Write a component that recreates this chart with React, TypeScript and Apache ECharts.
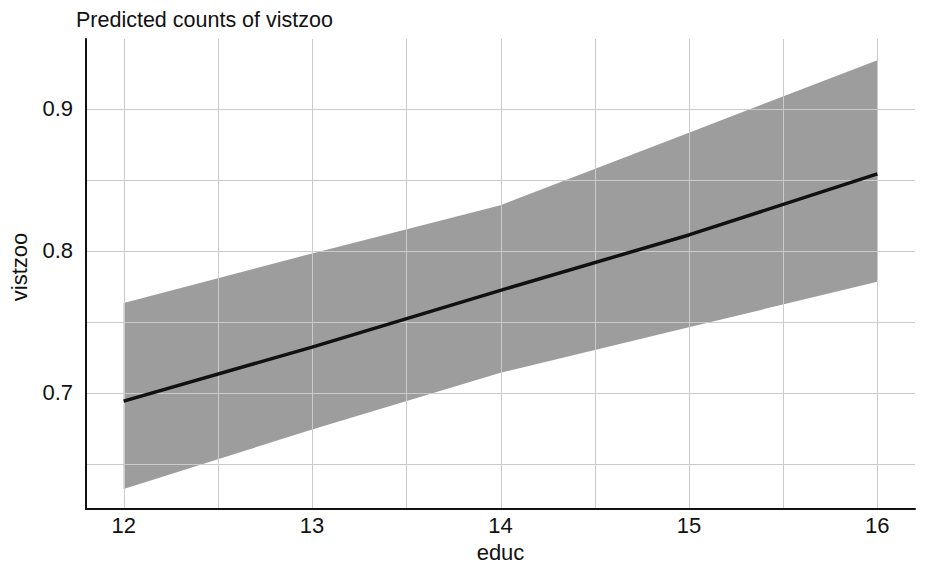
import React, { useEffect, useRef } from "react";
import * as echarts from "echarts";

const educ = [12, 13, 14, 15, 16];
const predicted = [0.694, 0.732, 0.772, 0.811, 0.854];
const upperCI = [0.763, 0.798, 0.832, 0.883, 0.934];
const lowerCI = [0.632, 0.674, 0.714, 0.746, 0.778];
const xTickLabels = [12, 13, 14, 15, 16];
const yTickLabels = [0.7, 0.8, 0.9];
const xGridLines = [12, 12.5, 13, 13.5, 14, 14.5, 15, 15.5, 16];
const yGridLines = [0.65, 0.7, 0.75, 0.8, 0.85, 0.9];

const titleText = "Predicted counts of vistzoo";
const xName = "educ";
const yName = "vistzoo";

const FONT = "'Liberation Sans', Arial, Helvetica, sans-serif";
const FS = 22;

export default function App() {
  const ref = useRef<HTMLDivElement>(null);
  useEffect(() => {
    if (!ref.current) return;
    const chart = echarts.init(ref.current, undefined, { renderer: "svg" });
    const isLabel = (v: number, list: number[]) =>
      list.some((t) => Math.abs(t - v) < 1e-6);
    const option: any = {
      animation: false,
      backgroundColor: "#ffffff",
      textStyle: { fontFamily: FONT },
      title: {
        text: titleText,
        left: 76,
        top: 9,
        padding: 0,
        textStyle: { fontFamily: FONT, fontSize: 21.5, fontWeight: "normal", color: "#111" },
      },
      grid: { left: 80, top: 39, right: 17, bottom: 77, containLabel: false },
      xAxis: {
        type: "value",
        min: 11.8,
        max: 16.2,
        minInterval: 0.5,
        maxInterval: 0.5,
        z: 5,
        name: xName,
        nameLocation: "middle",
        nameGap: 32,
        nameTextStyle: { fontFamily: FONT, fontSize: FS, color: "#111" },
        axisLine: { show: true, onZero: false, lineStyle: { color: "#111", width: 2 } },
        axisTick: { show: false },
        axisLabel: {
          margin: 5,
          fontFamily: FONT,
          fontSize: FS,
          color: "#111",
          showMinLabel: false,
          showMaxLabel: false,
          formatter: (v: number) => (isLabel(v, xTickLabels) ? String(Math.round(v)) : ""),
        },
        splitLine: { show: false },
      },
      yAxis: {
        type: "value",
        min: 0.618,
        max: 0.949,
        minInterval: 0.05,
        maxInterval: 0.05,
        z: 5,
        name: yName,
        nameLocation: "middle",
        nameGap: 56,
        nameRotate: 90,
        nameTextStyle: {
          fontFamily: FONT,
          fontSize: FS,
          color: "#111",
          padding: [0, 0, 0, 14],
        },
        axisLine: { show: true, onZero: false, lineStyle: { color: "#111", width: 2 } },
        axisTick: { show: false },
        axisLabel: {
          margin: 13,
          fontFamily: FONT,
          fontSize: FS,
          color: "#111",
          showMinLabel: false,
          showMaxLabel: false,
          formatter: (v: number) => (isLabel(v, yTickLabels) ? v.toFixed(1) : ""),
        },
        splitLine: { show: false },
      },
      series: [
        {
          type: "custom",
          name: "ci",
          z: 1,
          silent: true,
          data: educ.map((x, i) => [x, lowerCI[i], upperCI[i]]),
          renderItem: (params: any, api: any) => {
            if (params.dataIndex !== 0) return null;
            const cs = params.coordSys;
            const pts: number[][] = [];
            for (let i = 0; i < educ.length; i++) pts.push(api.coord([educ[i], upperCI[i]]));
            for (let i = educ.length - 1; i >= 0; i--) pts.push(api.coord([educ[i], lowerCI[i]]));
            const gridStyle = { stroke: "#cbcbcb", lineWidth: 1, fill: "none" };
            const children: any[] = [
              {
                type: "polygon",
                z2: 0,
                shape: { points: pts },
                style: { fill: "#9d9d9d", stroke: "none" },
              },
            ];
            xGridLines.forEach((v) => {
              const px = Math.round(api.coord([v, yGridLines[0]])[0]) + 0.5;
              children.push({
                type: "line",
                z2: 5,
                shape: { x1: px, y1: cs.y, x2: px, y2: cs.y + cs.height },
                style: gridStyle,
              });
            });
            yGridLines.forEach((v) => {
              const py = Math.round(api.coord([xGridLines[0], v])[1]) + 0.5;
              children.push({
                type: "line",
                z2: 5,
                shape: { x1: cs.x, y1: py, x2: cs.x + cs.width, y2: py },
                style: gridStyle,
              });
            });
            return { type: "group", children };
          },
        },
        {
          type: "line",
          name: "predicted",
          z: 10,
          data: educ.map((x, i) => [x, predicted[i]]),
          symbol: "none",
          lineStyle: { color: "#111", width: 3.5 },
          silent: true,
        },
      ],
    };
    chart.setOption(option);
    return () => chart.dispose();
  }, []);
  return (
    <div
      ref={ref}
      style={{ position: "fixed", left: 0, top: 0, width: 932, height: 586 }}
    />
  );
}
